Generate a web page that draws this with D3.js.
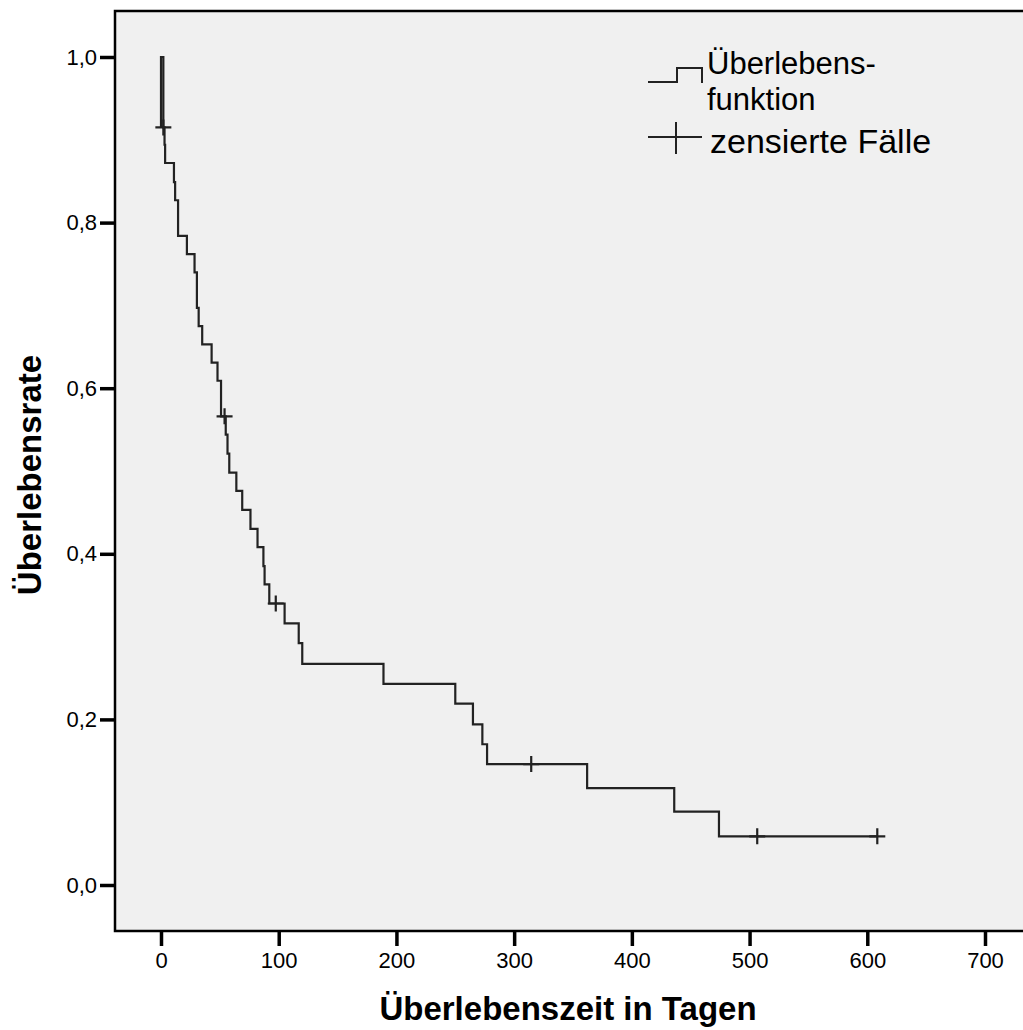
<!DOCTYPE html>
<html>
<head>
<meta charset="utf-8">
<script src="https://cdn.jsdelivr.net/npm/d3@7"></script>
<style>
  body { margin: 0; background: #fff; }
  svg { display: block; font-family: Arial, "Liberation Sans", sans-serif; }
</style>
</head>
<body>
<div id="chart"></div>
<script>
// survival steps: time of drop (days) and survival after the drop
const stepTimes = [2, 3, 3.5, 11, 12, 14.5, 22, 28.5, 30.5, 32, 35, 43, 48, 51, 55, 56.5, 58, 64, 69, 76, 82, 87, 88, 92,
  105, 117, 120, 189, 250, 265, 273, 277, 362, 436, 474];
const stepSurv = [0.915, 0.894, 0.872, 0.849, 0.827, 0.784, 0.762, 0.740, 0.697, 0.675, 0.653, 0.631, 0.609, 0.566,
  0.544, 0.521, 0.498, 0.476, 0.453, 0.430, 0.408, 0.385, 0.363, 0.340, 0.316, 0.292, 0.267, 0.243, 0.219, 0.194,
  0.170, 0.146, 0.117, 0.0885, 0.0588];
const endTime = 608.5;

// censored cases
const censorTimes = [2, 54, 97.5, 314.5, 506.5, 608.5];
const censorSurv = [0.915, 0.566, 0.340, 0.146, 0.0588, 0.0588];

const xTicks = [0, 100, 200, 300, 400, 500, 600, 700];
const yTicks = [0, 0.2, 0.4, 0.6, 0.8, 1.0];

const W = 1023, H = 1030;
const frame = {left: 115, top: 11, bottom: 931};

const svg = d3.select("#chart")
  .append("svg")
    .attr("width", W)
    .attr("height", H);

const x = d3.scaleLinear().domain([0, 700]).range([161, 985]);
const y = d3.scaleLinear().domain([0, 1]).range([885, 57]);

// plot background + frame
svg.append("rect")
  .attr("x", frame.left)
  .attr("y", frame.top)
  .attr("width", W + 20 - frame.left)
  .attr("height", frame.bottom - frame.top)
  .attr("fill", "#f0f0f0")
  .attr("stroke", "#000")
  .attr("stroke-width", 2.5);

const comma = d => d3.format(".1f")(d).replace(".", ",");

// axes
const yAxis = svg.append("g")
  .attr("transform", `translate(${frame.left},0)`)
  .call(d3.axisLeft(y).tickValues(yTicks).tickFormat(comma).tickSize(15).tickPadding(3));
const xAxis = svg.append("g")
  .attr("transform", `translate(0,${frame.bottom})`)
  .call(d3.axisBottom(x).tickValues(xTicks).tickSize(15).tickPadding(6));

[xAxis, yAxis].forEach(a => {
  a.select(".domain").remove();
  a.selectAll(".tick line").attr("stroke", "#000").attr("stroke-width", 3.5);
  a.selectAll(".tick text")
    .attr("fill", "#000")
    .style("font-size", "22px")
    .style("font-family", "Arial, 'Liberation Sans', sans-serif");
});

// axis titles
svg.append("text")
  .attr("x", 568)
  .attr("y", 1020)
  .attr("text-anchor", "middle")
  .attr("font-size", "33px")
  .attr("font-weight", "bold")
  .text("Überlebenszeit in Tagen");

svg.append("text")
  .attr("transform", "translate(41,475)rotate(-90)")
  .attr("text-anchor", "middle")
  .attr("font-size", "33px")
  .attr("font-weight", "bold")
  .text("Überlebensrate");

// survival curve
const pts = [[0, stepSurv[0]], [0, 1]];
let prev = 1;
stepTimes.forEach((t, i) => {
  pts.push([t, prev]);
  pts.push([t, stepSurv[i]]);
  prev = stepSurv[i];
});
pts.push([endTime, prev]);

svg.append("path")
  .datum(pts)
  .attr("fill", "none")
  .attr("stroke", "#222")
  .attr("stroke-width", 2.2)
  .attr("d", d3.line().x(d => x(d[0])).y(d => y(d[1])));

// censor marks
const cens = censorTimes.map((t, i) => [t, censorSurv[i]]);
svg.selectAll("path.cens")
  .data(cens)
  .join("path")
    .attr("class", "cens")
    .attr("fill", "none")
    .attr("stroke", "#222")
    .attr("stroke-width", 2.2)
    .attr("d", d => {
      const cx = x(d[0]), cy = y(d[1]);
      return `M${cx - 8},${cy}H${cx + 8}M${cx},${cy - 8}V${cy + 8}`;
    });

// legend
const lg = svg.append("g");
lg.append("path")
  .attr("fill", "none")
  .attr("stroke", "#222")
  .attr("stroke-width", 2)
  .attr("d", "M648,82H677V68H702V83");
lg.append("path")
  .attr("fill", "none")
  .attr("stroke", "#222")
  .attr("stroke-width", 2)
  .attr("d", "M648,137H702M676,122V154");

lg.append("text").attr("x", 707).attr("y", 74).attr("font-size", "31px").text("Überlebens-");
lg.append("text").attr("x", 707).attr("y", 110).attr("font-size", "31px").text("funktion");
lg.append("text").attr("x", 710).attr("y", 153).attr("font-size", "34px").text("zensierte Fälle");
</script>
</body>
</html>
